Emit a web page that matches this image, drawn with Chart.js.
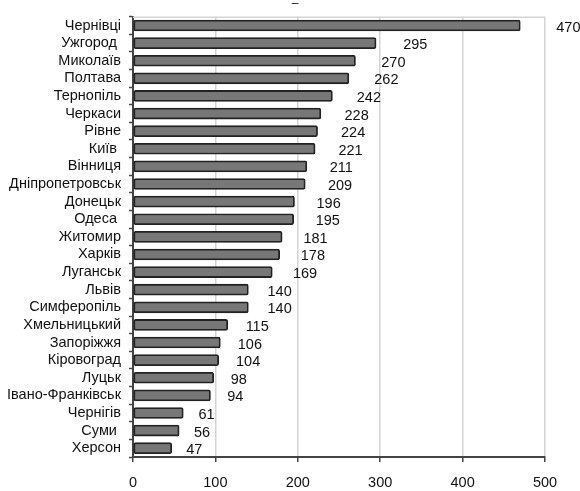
<!DOCTYPE html>
<html>
<head>
<meta charset="utf-8">
<script src="https://cdn.jsdelivr.net/npm/chart.js@4/dist/chart.umd.min.js"></script>
<style>
  html, body { margin: 0; padding: 0; background: #fff; }
  #wrap { width: 580px; height: 491px; position: relative; }
</style>
</head>
<body>
<div id="wrap"><canvas id="c"></canvas></div>
<script>
// Cities and their values, top to bottom
const cities = [
  'Чернівці', 'Ужгород ', 'Миколаїв', 'Полтава', 'Тернопіль', 'Черкаси',
  'Рівне', 'Київ ', 'Вінниця', 'Дніпропетровськ', 'Донецьк', 'Одеса ',
  'Житомир', 'Харків', 'Луганськ', 'Львів', 'Симферопіль', 'Хмельницький',
  'Запоріжжя', 'Кіровоград', 'Луцьк', 'Івано-Франківськ', 'Чернігів', 'Суми ', 'Херсон'
];
const values = [
  470, 295, 270, 262, 242, 228,
  224, 221, 211, 209, 196, 195,
  181, 178, 169, 140, 140, 115,
  106, 104, 98, 94, 61, 56, 47
];
const xTicks = [0, 100, 200, 300, 400, 500];
const chartTitle = '–';

const FONT = '"Liberation Sans", Arial, sans-serif';

// Cylinder-like shading for the bars
function barFill(ctx) {
  const el = ctx.element;
  const chart = ctx.chart;
  if (!el || el.y === undefined || !chart.chartArea) return '#777';
  const h = el.height || 11;
  const g = chart.ctx.createLinearGradient(0, el.y - h / 2, 0, el.y + h / 2);
  g.addColorStop(0, '#2e2e2e');
  g.addColorStop(0.2, '#4a4a4a');
  g.addColorStop(0.4, '#8e8e8e');
  g.addColorStop(0.62, '#777');
  g.addColorStop(0.85, '#555');
  g.addColorStop(1, '#2a2a2a');
  return g;
}

// Value labels beside the bars, plus the frame of the plot area
const decor = {
  id: 'decor',
  beforeDatasetsDraw(chart) {
    const { ctx, chartArea: a } = chart;
    ctx.save();
    ctx.strokeStyle = '#d4d4d4';
    ctx.lineWidth = 1.5;
    ctx.beginPath();
    ctx.moveTo(a.left, a.top + 0.5);
    ctx.lineTo(a.right, a.top + 0.5);
    ctx.stroke();
    ctx.restore();
  },
  afterDatasetsDraw(chart) {
    const { ctx } = chart;
    const xs = chart.scales.x;
    const meta = chart.getDatasetMeta(0);
    ctx.save();
    ctx.font = '14.5px ' + FONT;
    ctx.fillStyle = '#111';
    ctx.textBaseline = 'middle';
    ctx.textAlign = 'left';
    meta.data.forEach((bar, i) => {
      const v = values[i];
      const x = xs.getPixelForValue(v * 1.062) + 12;
      ctx.fillText(String(v), x, bar.y + 2);
    });
    ctx.textAlign = 'center';
    ctx.font = '12px ' + FONT;
    ctx.fillText(chartTitle, 295, 4);
    ctx.restore();
  }
};

new Chart(document.getElementById('c'), {
  type: 'bar',
  data: {
    labels: cities,
    datasets: [{
      data: values,
      backgroundColor: barFill,
      borderColor: '#222',
      borderWidth: 1.8,
      borderRadius: 2,
      borderSkipped: false,
      barThickness: 11
    }]
  },
  options: {
    indexAxis: 'y',
    responsive: true,
    maintainAspectRatio: false,
    animation: false,
    layout: { padding: { top: 13, right: 35, left: 0, bottom: 0 } },
    plugins: {
      legend: { display: false },
      tooltip: { enabled: false }
    },
    scales: {
      x: {
        min: 0,
        max: 500,
        afterBuildTicks(scale) { scale.ticks = xTicks.map(v => ({ value: v })); },
        afterFit(scale) { scale.height = 34; },
        grid: {
          color: '#d4d4d4',
          lineWidth: 1.5,
          drawTicks: true,
          tickLength: 5,
          tickColor: '#444',
          tickWidth: 1.5
        },
        border: { display: true, color: '#444', width: 2 },
        ticks: {
          color: '#111',
          font: { size: 14.5, family: FONT },
          padding: 12,
          maxRotation: 0
        }
      },
      y: {
        afterFit(scale) { scale.width = 133; },
        grid: {
          display: true,
          drawOnChartArea: false,
          drawTicks: true,
          tickLength: 4,
          tickColor: '#444',
          tickWidth: 1.5,
          offset: true
        },
        border: { display: true, color: '#444', width: 2 },
        ticks: {
          color: '#111',
          font: { size: 14.5, family: FONT },
          padding: 8,
          autoSkip: false
        }
      }
    }
  },
  plugins: [decor]
});
</script>
</body>
</html>
